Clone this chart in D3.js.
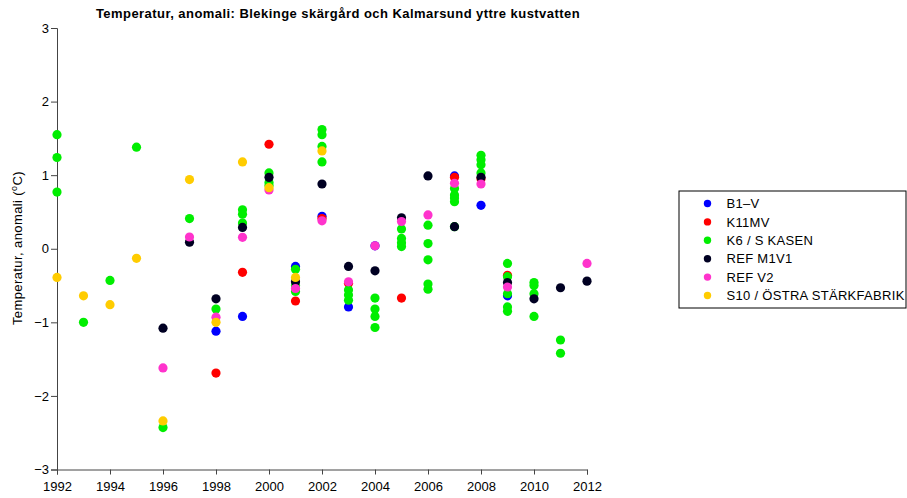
<!DOCTYPE html>
<html>
<head>
<meta charset="utf-8">
<script src="https://cdn.jsdelivr.net/npm/d3@7"></script>
<style>
  body { margin: 0; background: #fff; }
  svg { font-family: "Liberation Sans", Arial, Helvetica, sans-serif; }
</style>
</head>
<body>
<svg></svg>
<script>
// Series names and colours (legend order = draw order)
const seriesNames = ["B1\u2013V", "K11MV", "K6 / S KASEN", "REF M1V1", "REF V2", "S10 / \u00d6STRA ST\u00c4RKFABRIK"];
const seriesColors = ["#0000ff", "#ff0000", "#00ee00", "#000022", "#ff33cc", "#ffcc00"];

// [year, anomaly]
const b1v = [[1998, -1.12], [1999, -0.92], [2001, -0.24], [2002, 0.44], [2003, -0.79], [2004, 0.04], [2007, 0.99], [2008, 0.59], [2009, -0.64]];
const k11mv = [[1998, -1.69], [1999, -0.32], [2000, 1.42], [2001, -0.71], [2002, 0.41], [2003, -0.47], [2005, -0.67], [2007, 0.97], [2008, 0.95], [2009, -0.36]];
const k6 = [
  [1992, 1.55], [1992, 1.24], [1992, 0.77], [1993, -1.0], [1994, -0.43], [1995, 1.38], [1996, -2.43], [1997, 0.41], [1998, -0.82],
  [1999, 0.53], [1999, 0.47], [1999, 0.35], [2000, 1.03], [2000, 0.9], [2000, 0.86],
  [2001, -0.28], [2001, -0.5], [2001, -0.58], [2002, 1.62], [2002, 1.55], [2002, 1.39], [2002, 1.18],
  [2003, -0.56], [2003, -0.63], [2003, -0.7], [2004, -0.67], [2004, -0.82], [2004, -0.92], [2004, -1.07],
  [2005, 0.27], [2005, 0.14], [2005, 0.08], [2005, 0.03], [2006, 0.32], [2006, 0.07], [2006, -0.15], [2006, -0.48], [2006, -0.55],
  [2007, 0.82], [2007, 0.73], [2007, 0.69], [2007, 0.64], [2007, 0.3], [2008, 1.27], [2008, 1.21], [2008, 1.14], [2008, 1.03],
  [2009, -0.2], [2009, -0.38], [2009, -0.61], [2009, -0.79], [2009, -0.85], [2010, -0.46], [2010, -0.5], [2010, -0.61], [2010, -0.92],
  [2011, -1.24], [2011, -1.42]
];
const refM1V1 = [[1996, -1.08], [1997, 0.09], [1998, -0.68], [1999, 0.29], [2000, 0.97], [2001, -0.45], [2002, 0.88], [2003, -0.24], [2004, -0.3], [2005, 0.42], [2006, 0.99], [2007, 0.3], [2008, 0.97], [2009, -0.46], [2010, -0.68], [2011, -0.53], [2012, -0.44]];
const refV2 = [[1996, -1.62], [1997, 0.16], [1998, -0.93], [1999, 0.155], [2000, 0.8], [2001, -0.54], [2002, 0.38], [2003, -0.45], [2004, 0.04], [2005, 0.37], [2006, 0.46], [2007, 0.89], [2008, 0.88], [2009, -0.52], [2012, -0.2]];
const s10 = [[1992, -0.39], [1993, -0.64], [1994, -0.76], [1995, -0.13], [1996, -2.34], [1997, 0.94], [1998, -1.0], [1999, 1.18], [2000, 0.83], [2001, -0.39], [2002, 1.33]];

const xTicks = [1992, 1994, 1996, 1998, 2000, 2002, 2004, 2006, 2008, 2010, 2012];
const yTicks = [-3, -2, -1, 0, 1, 2, 3];

const allSeries = [b1v, k11mv, k6, refM1V1, refV2, s10];

let width = 907,
  height = 498;

let svg = d3.select("svg").attr("width", width).attr("height", height);

let x = d3.scaleLinear().domain([1992, 2012]).range([57, 587]);
let y = d3.scaleLinear().domain([-3, 3]).range([469.5, 28]);

// axes
let yAxis = svg
  .append("g")
  .attr("transform", "translate(57,0)")
  .call(d3.axisLeft(y).tickValues(yTicks).tickFormat(d3.format("d")).tickSizeOuter(0).tickSize(6).tickPadding(2));
let xAxis = svg
  .append("g")
  .attr("transform", "translate(0,469.5)")
  .call(d3.axisBottom(x).tickValues(xTicks).tickFormat(d3.format("d")).tickSizeOuter(0).tickSize(5).tickPadding(7));

[xAxis, yAxis].forEach((a) => {
  a.selectAll("path, line").attr("stroke", "#444");
  a.selectAll("text").attr("fill", "#000").style("font-size", "13px");
});

// title
svg
  .append("text")
  .attr("x", 338)
  .attr("y", 17.5)
  .attr("text-anchor", "middle")
  .style("font-size", "13px")
  .style("letter-spacing", "0.45px")
  .style("font-weight", "bold")
  .text("Temperatur, anomali: Blekinge sk\u00e4rg\u00e5rd och Kalmarsund yttre kustvatten");

// y label
let ylab = svg
  .append("text")
  .attr("transform", "translate(22,248) rotate(-90)")
  .attr("text-anchor", "middle")
  .style("font-size", "13px")
  .style("letter-spacing", "0.4px");
ylab.append("tspan").text("Temperatur, anomali (");
ylab.append("tspan").attr("baseline-shift", "super").style("font-size", "9px").text("o");
ylab.append("tspan").text("C)");

// points
allSeries.forEach((s, i) => {
  svg
    .append("g")
    .selectAll("circle")
    .data(s)
    .enter()
    .append("circle")
    .attr("cx", (d) => x(d[0]))
    .attr("cy", (d) => y(d[1]))
    .attr("r", 4.6)
    .attr("fill", seriesColors[i]);
});

// legend
let legend = svg.append("g").attr("transform", "translate(679,191)");
legend
  .append("rect")
  .attr("width", 227)
  .attr("height", 117)
  .attr("fill", "none")
  .attr("stroke", "#000")
  .attr("stroke-width", 1);
seriesNames.forEach((name, i) => {
  let row = legend.append("g").attr("transform", `translate(0,${12.5 + i * 18.4})`);
  row.append("circle").attr("cx", 28.5).attr("cy", 0).attr("r", 3.7).attr("fill", seriesColors[i]);
  row
    .append("text")
    .attr("x", 47.5)
    .attr("y", 4.6)
    .style("font-size", "13px")
    .style("letter-spacing", "0.3px")
    .text(name);
});
</script>
</body>
</html>
